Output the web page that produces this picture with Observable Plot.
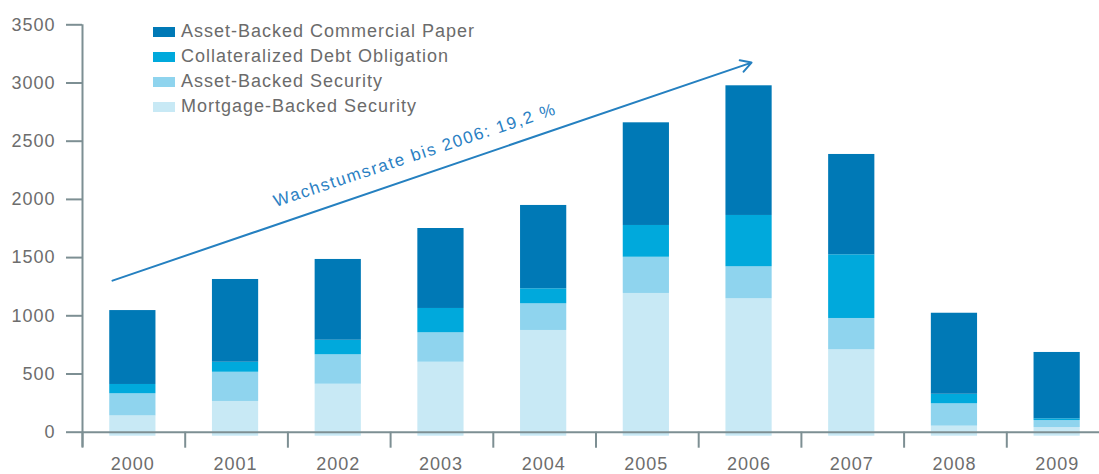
<!DOCTYPE html>
<html><head><meta charset="utf-8">
<script src="https://cdn.jsdelivr.net/npm/d3@7"></script>
<script src="https://cdn.jsdelivr.net/npm/@observablehq/plot@0.6"></script>
<style>
body{margin:0;background:#fff;}
#wrap{position:relative;width:1099px;height:474px;overflow:hidden;font-family:"Liberation Sans",Arial,sans-serif;}
#legend{position:absolute;left:153px;top:19px;}
.row{display:flex;align-items:center;height:25px;}
.sw{width:22px;height:10px;margin-right:6px;flex:none;}
.lab{font-size:18px;letter-spacing:1px;color:#6b6b6b;white-space:nowrap;line-height:25px;}
</style></head>
<body><div id="wrap"><div id="chart"></div><div id="legend"></div></div>
<script>
// ---- data ----
const years = ["2000","2001","2002","2003","2004","2005","2006","2007","2008","2009"];
const seriesNames = ["Mortgage-Backed Security","Asset-Backed Security","Collateralized Debt Obligation","Asset-Backed Commercial Paper"];
const mbs  = [140, 264, 412, 601, 874, 1192, 1146, 708, 52, 40];
const abs  = [190, 251, 253, 253, 229, 311, 275, 269, 192, 60];
const cdo  = [80, 86, 125, 209, 129, 273, 441, 547, 82, 15];
const abcp = [635, 711, 694, 687, 716, 882, 1114, 862, 696, 570];
const yTicks = [0, 500, 1000, 1500, 2000, 2500, 3000, 3500];
const seriesColors = ["#c8e9f5", "#8fd4ee", "#00a9dc", "#0079b6"];
const trendLabel = "Wachstumsrate bis 2006: 19,2 %";
const trendFrom = ["2000", 1362];
const trendTo = ["2006", 3168];

// ---- build table ----
const valuesBySeries = [mbs, abs, cdo, abcp];
const table = [];
seriesNames.forEach((s, k) => years.forEach((y, i) => table.push({year: y, series: s, value: valuesBySeries[k][i]})));

const axisColor = "#7d8f93";
const labelColor = "#6d6d6d";
const halfStep = -51.35;

const chart = Plot.plot({
  width: 1099,
  height: 474,
  marginLeft: 82,
  marginRight: 0,
  marginTop: 24,
  marginBottom: 42,
  style: {fontFamily: "'Liberation Sans', Arial, sans-serif", fontSize: "18px", letterSpacing: "1px", background: "#fff"},
  x: {domain: years, range: [81, 1108], round: false, paddingInner: 0.55, paddingOuter: 0.275, label: null},
  y: {domain: [0, 3500], range: [431.7, 24.3], label: null},
  color: {domain: seriesNames, range: seriesColors},
  marks: [
    Plot.barY(table, {x: "year", y: "value", fill: "series", order: seriesNames}),
    Plot.barY(years, {x: d => d, y1: 0, y2: 0, fill: seriesColors[0], insetBottom: -4}),
    Plot.ruleY([0], {stroke: axisColor, strokeWidth: 2}),
    Plot.ruleX([years[0]], {dx: halfStep + 1, y1: 3500, y2: 0, insetBottom: -15, stroke: axisColor, strokeWidth: 2}),
    Plot.ruleX(years, {dx: halfStep + 1, y1: 0, y2: 0, insetBottom: -16, stroke: axisColor, strokeWidth: 2}),
    Plot.axisY({ticks: yTicks, tickFormat: d => String(d), tickSize: 16, tickPadding: 11, stroke: axisColor, strokeWidth: 2, fill: labelColor, fontSize: 18, label: null}),
    Plot.axisX({tickSize: 0, tickPadding: 25, fill: labelColor, fontSize: 18, label: null}),
    Plot.arrow([0], {x1: () => trendFrom[0], y1: () => trendFrom[1], x2: () => trendTo[0], y2: () => trendTo[1],
      insetStart: -21.5, insetEnd: -2.6, stroke: "#2580c0", strokeWidth: 2, headLength: 9}),
    Plot.text([trendLabel], {x: () => "2003", y: () => 2380, dx: -26, rotate: -18.3, text: d => d,
      fill: "#2a80c3", fontSize: 17, fontWeight: 500, style: "letter-spacing:1.6px"})
  ]
});
document.getElementById("chart").appendChild(chart);
// wider tracking for the trend label
chart.querySelectorAll("text").forEach(t => { if (t.textContent === trendLabel) t.setAttribute("letter-spacing", "1.6px"); });

// ---- legend ----
const legend = document.getElementById("legend");
[3, 2, 1, 0].forEach(k => {
  const row = document.createElement("div");
  row.className = "row";
  row.innerHTML = `<div class="sw" style="background:${seriesColors[k]}"></div><div class="lab">${seriesNames[k]}</div>`;
  legend.appendChild(row);
});
</script>
</body></html>
